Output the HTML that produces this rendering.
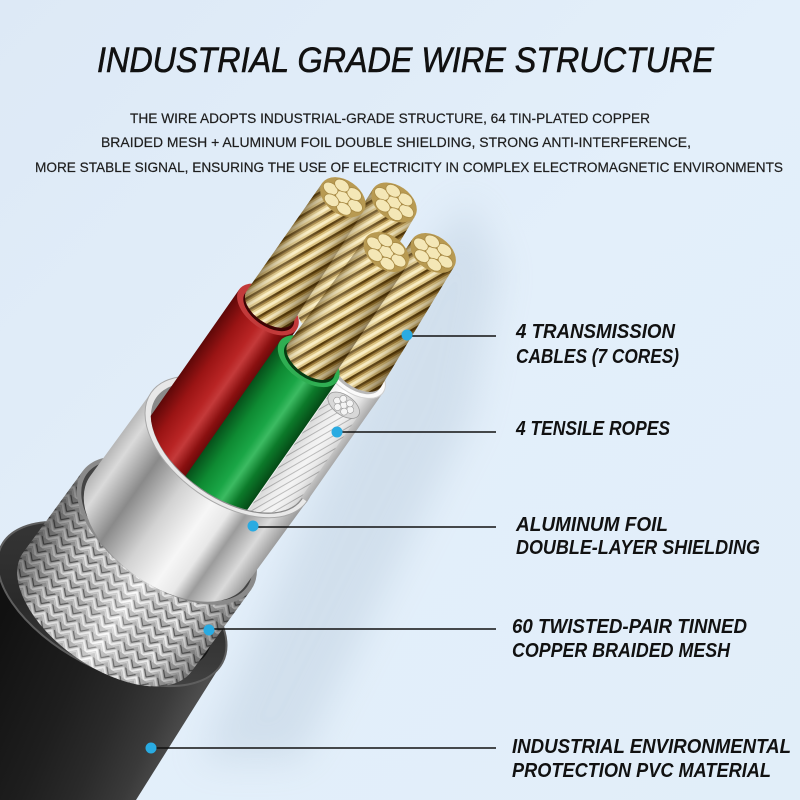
<!DOCTYPE html>
<html><head><meta charset="utf-8"><style>
html,body{margin:0;padding:0;background:#e1eefa;width:800px;height:800px;overflow:hidden;}
svg{display:block;}
</style></head><body>
<svg width="800" height="800" viewBox="0 0 800 800" xmlns="http://www.w3.org/2000/svg">
<defs>
  <linearGradient id="bg" x1="0" y1="0" x2="1" y2="1">
    <stop offset="0" stop-color="#dde9f6"/><stop offset="0.5" stop-color="#e3effa"/><stop offset="1" stop-color="#e1eef9"/>
  </linearGradient>
  <filter id="blur" x="-30%" y="-30%" width="160%" height="160%"><feGaussianBlur stdDeviation="18"/></filter>
  <linearGradient id="jk" x1="0" y1="0.3" x2="1" y2="0.8">
    <stop offset="0" stop-color="#111"/><stop offset="0.35" stop-color="#1e1e1e"/><stop offset="0.55" stop-color="#2a2a2a"/>
    <stop offset="0.72" stop-color="#3a3a3a"/><stop offset="0.84" stop-color="#4e4e4e"/><stop offset="0.93" stop-color="#2a2a2a"/><stop offset="1" stop-color="#151515"/>
  </linearGradient>
  <linearGradient id="jkface" x1="0" y1="0" x2="1" y2="1">
    <stop offset="0" stop-color="#3a3a3a"/><stop offset="0.5" stop-color="#2a2a2a"/><stop offset="1" stop-color="#4a4a4a"/>
  </linearGradient>
  <pattern id="braid" width="16" height="10" patternUnits="userSpaceOnUse">
    <rect width="16" height="10" fill="#b8b8b8"/>
    <path d="M0 10 L8 2 L16 10" stroke="#fafafa" stroke-width="2.2" fill="none"/>
    <path d="M0 6 L8 -2 L16 6" stroke="#5a5a5a" stroke-width="1.1" fill="none"/>
    <path d="M0 13 L8 5 L16 13" stroke="#e0e0e0" stroke-width="1" fill="none"/>
    <path d="M0 8 L8 0 L16 8" stroke="#d0d0d0" stroke-width="0.8" fill="none"/>
  </pattern>
  <linearGradient id="brsh" x1="0" y1="0" x2="1" y2="0">
    <stop offset="0" stop-color="#000" stop-opacity="0.5"/><stop offset="0.25" stop-color="#000" stop-opacity="0.1"/>
    <stop offset="0.55" stop-color="#fff" stop-opacity="0.3"/><stop offset="0.8" stop-color="#000" stop-opacity="0.05"/>
    <stop offset="1" stop-color="#000" stop-opacity="0.4"/>
  </linearGradient>
  <linearGradient id="foil" x1="0" y1="0" x2="1" y2="0">
    <stop offset="0" stop-color="#b5b5b5"/><stop offset="0.08" stop-color="#dadada"/><stop offset="0.24" stop-color="#8a8a8a"/>
    <stop offset="0.42" stop-color="#d2d2d2"/><stop offset="0.6" stop-color="#f6f6f6"/><stop offset="0.7" stop-color="#e8e8e8"/>
    <stop offset="0.78" stop-color="#9c9c9c"/><stop offset="0.9" stop-color="#dadada"/><stop offset="1" stop-color="#999"/>
  </linearGradient>
  <linearGradient id="red" x1="0" y1="0" x2="1" y2="0">
    <stop offset="0" stop-color="#5e0808"/><stop offset="0.25" stop-color="#9a1414"/><stop offset="0.5" stop-color="#b82424"/>
    <stop offset="0.62" stop-color="#c43a3a"/><stop offset="0.8" stop-color="#8a1010"/><stop offset="1" stop-color="#4e0505"/>
  </linearGradient>
  <linearGradient id="green" x1="0" y1="0" x2="1" y2="0">
    <stop offset="0" stop-color="#06501a"/><stop offset="0.25" stop-color="#0e8a32"/><stop offset="0.5" stop-color="#1aa646"/>
    <stop offset="0.62" stop-color="#3cbb62"/><stop offset="0.8" stop-color="#0c7a2a"/><stop offset="1" stop-color="#054a16"/>
  </linearGradient>
  <linearGradient id="white" x1="0" y1="0" x2="1" y2="0">
    <stop offset="0" stop-color="#b0b0b0"/><stop offset="0.3" stop-color="#ececec"/><stop offset="0.55" stop-color="#ffffff"/>
    <stop offset="0.8" stop-color="#e2e2e2"/><stop offset="1" stop-color="#a8a8a8"/>
  </linearGradient>
  <pattern id="cu" width="11" height="11" patternUnits="userSpaceOnUse" patternTransform="rotate(25)">
    <rect width="11" height="11" fill="#dcc380"/>
    <rect x="0" width="2.4" height="11" fill="#553a0a"/>
    <rect x="2.4" width="1.6" height="11" fill="#9c7832"/>
    <rect x="6" width="2.8" height="11" fill="#f8ecc2"/>
  </pattern>
  <linearGradient id="cush" x1="0" y1="0" x2="1" y2="0">
    <stop offset="0" stop-color="#3a2500" stop-opacity="0.5"/><stop offset="0.3" stop-color="#fff8dc" stop-opacity="0.2"/>
    <stop offset="0.5" stop-color="#fff" stop-opacity="0"/><stop offset="0.8" stop-color="#3a2500" stop-opacity="0.25"/>
    <stop offset="1" stop-color="#2a1800" stop-opacity="0.55"/>
  </linearGradient>
  <pattern id="rope" width="6" height="6" patternUnits="userSpaceOnUse" patternTransform="rotate(25)">
    <rect width="6" height="6" fill="#eeeeee"/><rect x="0" width="1" height="6" fill="#9a9a9a"/>
  </pattern>
  <clipPath id="wclip" clipPathUnits="userSpaceOnUse">
    <path d="M -300,-400 L 300,-400 L 300,0 L 89,0 A 89 50 0 0 1 -89,0 L -300,0 Z"/>
  </clipPath>
</defs>

<rect width="800" height="800" fill="url(#bg)"/>
<path d="M 470,200 L 500,270 L 470,420 L 340,680 L 300,760 L 200,760 L 305,520 L 420,260 Z" fill="#a9bccf" opacity="0.3" filter="url(#blur)"/>

<!-- jacket body (image coords) -->
<path d="M 0,546 L 222,663 L 136,800 L 0,800 Z" fill="url(#jk)"/>
<g transform="translate(112,604) rotate(28)">
  <ellipse cx="0" cy="0" rx="125" ry="65" fill="url(#jkface)" stroke="#5e5e5e" stroke-width="2"/>
  <ellipse cx="3" cy="-3" rx="104" ry="52" fill="#161616"/>
</g>

<g transform="translate(229,447) rotate(35)">
  <!-- braid -->
  <path d="M -106,104 L -108,205 A 103 55 0 0 0 98,205 L 100,104 Z" fill="url(#braid)"/>
  <path d="M -106,104 L -108,205 A 103 55 0 0 0 98,205 L 100,104 Z" fill="url(#brsh)"/>
  <ellipse cx="-3" cy="104" rx="103" ry="55" fill="#8a8a8a"/>
  <ellipse cx="-3" cy="104" rx="98" ry="52" fill="#444"/>
  <!-- foil -->
  <path d="M -95,0 L -97,104 A 95 55 0 0 0 93,104 L 95,0 Z" fill="url(#foil)"/>
  <ellipse cx="0" cy="0" rx="95" ry="55" fill="#e8e8e8" stroke="#a8a8a8" stroke-width="1"/>
  <ellipse cx="1" cy="1" rx="89" ry="50" fill="#8a8a8a"/>

  <g clip-path="url(#wclip)">
    <!-- copper B (back) -->
    <path d="M -30,-295 L -25,-157 A 28 16 0 0 0 31,-157 L 20,-295 Z" fill="url(#cu)"/>
    <path d="M -30,-295 L -25,-157 A 28 16 0 0 0 31,-157 L 20,-295 Z" fill="url(#cush)"/>
    <ellipse cx="-5" cy="-295" rx="25" ry="17" fill="#b89a52"/>
    <g fill="#f4e7b6" stroke="#a88a45" stroke-width="0.8">
      <ellipse cx="-5" cy="-295" rx="8" ry="5.5"/><ellipse cx="10" cy="-295" rx="8" ry="5.5"/><ellipse cx="-20" cy="-295" rx="8" ry="5.5"/>
      <ellipse cx="2.5" cy="-304" rx="8" ry="5.5"/><ellipse cx="-12.5" cy="-304" rx="8" ry="5.5"/>
      <ellipse cx="2.5" cy="-286" rx="8" ry="5.5"/><ellipse cx="-12.5" cy="-286" rx="8" ry="5.5"/>
    </g>
    <!-- red -->
    <path d="M -82,-135 L -82,80 L -12,80 L -12,-135 Z" fill="url(#red)"/>
    <ellipse cx="-47" cy="-135" rx="35" ry="20" fill="#c23a3a"/>
    <ellipse cx="-46" cy="-135" rx="29" ry="16" fill="#3d0404"/>
    <!-- copper A -->
    <path d="M -75,-270 L -75,-138 A 28 16 0 0 0 -19,-138 L -25,-270 Z" fill="url(#cu)"/>
    <path d="M -75,-270 L -75,-138 A 28 16 0 0 0 -19,-138 L -25,-270 Z" fill="url(#cush)"/>
    <ellipse cx="-50" cy="-270" rx="25" ry="17" fill="#b89a52"/>
    <g fill="#f4e7b6" stroke="#a88a45" stroke-width="0.8">
      <ellipse cx="-50" cy="-270" rx="8" ry="5.5"/><ellipse cx="-35" cy="-270" rx="8" ry="5.5"/><ellipse cx="-65" cy="-270" rx="8" ry="5.5"/>
      <ellipse cx="-42.5" cy="-279" rx="8" ry="5.5"/><ellipse cx="-57.5" cy="-279" rx="8" ry="5.5"/>
      <ellipse cx="-42.5" cy="-261" rx="8" ry="5.5"/><ellipse cx="-57.5" cy="-261" rx="8" ry="5.5"/>
    </g>
    <!-- white -->
    <path d="M 25,-133 L 25,80 L 95,80 L 95,-133 Z" fill="url(#white)"/>
    <ellipse cx="60" cy="-133" rx="35" ry="20" fill="#fafafa" stroke="#cfcfcf" stroke-width="1"/>
    <ellipse cx="61" cy="-133" rx="29" ry="16" fill="#b8b8b8"/>
    <!-- copper D -->
    <path d="M 31,-276 L 34,-136 A 28 16 0 0 0 90,-136 L 81,-276 Z" fill="url(#cu)"/>
    <path d="M 31,-276 L 34,-136 A 28 16 0 0 0 90,-136 L 81,-276 Z" fill="url(#cush)"/>
    <ellipse cx="56" cy="-276" rx="25" ry="17" fill="#b89a52"/>
    <g fill="#f4e7b6" stroke="#a88a45" stroke-width="0.8">
      <ellipse cx="56" cy="-276" rx="8" ry="5.5"/><ellipse cx="71" cy="-276" rx="8" ry="5.5"/><ellipse cx="41" cy="-276" rx="8" ry="5.5"/>
      <ellipse cx="63.5" cy="-285" rx="8" ry="5.5"/><ellipse cx="48.5" cy="-285" rx="8" ry="5.5"/>
      <ellipse cx="63.5" cy="-267" rx="8" ry="5.5"/><ellipse cx="48.5" cy="-267" rx="8" ry="5.5"/>
    </g>
    <!-- ropes -->
    <path d="M 52,-100 L 52,80 L 88,80 L 88,-100 Z" fill="url(#rope)"/>
    <path d="M 52,-100 L 52,80 L 88,80 L 88,-100 Z" fill="url(#white)" opacity="0.35"/>
    <ellipse cx="70" cy="-100" rx="18" ry="10" fill="#d8d8d8" stroke="#999" stroke-width="0.8"/>
    <g fill="#f4f4f4" stroke="#9a9a9a" stroke-width="0.6">
      <circle cx="70" cy="-100" r="3.5"/><circle cx="62" cy="-100" r="3.5"/><circle cx="78" cy="-100" r="3.5"/>
      <circle cx="66" cy="-105" r="3.5"/><circle cx="74" cy="-105" r="3.5"/><circle cx="66" cy="-95" r="3.5"/><circle cx="74" cy="-95" r="3.5"/>
    </g>
    <!-- green -->
    <path d="M -19,-116 L -19,80 L 51,80 L 51,-116 Z" fill="url(#green)"/>
    <ellipse cx="16" cy="-116" rx="35" ry="20" fill="#2fae52"/>
    <ellipse cx="17" cy="-116" rx="29" ry="16" fill="#053d12"/>
    <!-- copper C -->
    <path d="M -8,-250 L -11,-119 A 28 16 0 0 0 45,-119 L 42,-250 Z" fill="url(#cu)"/>
    <path d="M -8,-250 L -11,-119 A 28 16 0 0 0 45,-119 L 42,-250 Z" fill="url(#cush)"/>
    <ellipse cx="17" cy="-250" rx="25" ry="17" fill="#b89a52"/>
    <g fill="#f4e7b6" stroke="#a88a45" stroke-width="0.8">
      <ellipse cx="17" cy="-250" rx="8" ry="5.5"/><ellipse cx="32" cy="-250" rx="8" ry="5.5"/><ellipse cx="2" cy="-250" rx="8" ry="5.5"/>
      <ellipse cx="24.5" cy="-259" rx="8" ry="5.5"/><ellipse cx="9.5" cy="-259" rx="8" ry="5.5"/>
      <ellipse cx="24.5" cy="-241" rx="8" ry="5.5"/><ellipse cx="9.5" cy="-241" rx="8" ry="5.5"/>
    </g>
  </g>
</g>

<!-- leaders -->
<g stroke="#111" stroke-width="1.5">
  <line x1="407" y1="336" x2="496" y2="336"/>
  <line x1="337" y1="432" x2="496" y2="432"/>
  <line x1="253" y1="527" x2="496" y2="527"/>
  <line x1="209" y1="629" x2="496" y2="629"/>
  <line x1="151" y1="748" x2="496" y2="748"/>
</g>
<g fill="#29abe2">
  <circle cx="407" cy="335" r="5.5"/>
  <circle cx="337" cy="432" r="5.5"/>
  <circle cx="253" cy="526" r="5.5"/>
  <circle cx="209" cy="630" r="5.5"/>
  <circle cx="151" cy="748" r="5.5"/>
</g>

<!-- text -->
<g font-family="'Liberation Sans', sans-serif" fill="#111">
  <text x="97" y="72" font-size="35" font-style="italic" stroke="#111" stroke-width="0.6" textLength="617" lengthAdjust="spacingAndGlyphs">INDUSTRIAL GRADE WIRE STRUCTURE</text>
  <g font-size="14" fill="#1e1e1e" stroke="#1e1e1e" stroke-width="0.2">
    <text x="130" y="123" textLength="520" lengthAdjust="spacingAndGlyphs">THE WIRE ADOPTS INDUSTRIAL-GRADE STRUCTURE, 64 TIN-PLATED COPPER</text>
    <text x="101" y="147" textLength="590" lengthAdjust="spacingAndGlyphs">BRAIDED MESH + ALUMINUM FOIL DOUBLE SHIELDING, STRONG ANTI-INTERFERENCE,</text>
    <text x="35" y="172" textLength="748" lengthAdjust="spacingAndGlyphs">MORE STABLE SIGNAL, ENSURING THE USE OF ELECTRICITY IN COMPLEX ELECTROMAGNETIC ENVIRONMENTS</text>
  </g>
  <g font-size="20" font-style="italic" font-weight="bold">
    <text x="516" y="338" textLength="159" lengthAdjust="spacingAndGlyphs">4 TRANSMISSION</text>
    <text x="516" y="363" textLength="163" lengthAdjust="spacingAndGlyphs">CABLES (7 CORES)</text>
    <text x="516" y="435" textLength="154" lengthAdjust="spacingAndGlyphs">4 TENSILE ROPES</text>
    <text x="516" y="531" textLength="152" lengthAdjust="spacingAndGlyphs">ALUMINUM FOIL</text>
    <text x="516" y="554" textLength="244" lengthAdjust="spacingAndGlyphs">DOUBLE-LAYER SHIELDING</text>
    <text x="512" y="633" textLength="235" lengthAdjust="spacingAndGlyphs">60 TWISTED-PAIR TINNED</text>
    <text x="512" y="657" textLength="218" lengthAdjust="spacingAndGlyphs">COPPER BRAIDED MESH</text>
    <text x="512" y="753" textLength="279" lengthAdjust="spacingAndGlyphs">INDUSTRIAL ENVIRONMENTAL</text>
    <text x="512" y="777" textLength="259" lengthAdjust="spacingAndGlyphs">PROTECTION PVC MATERIAL</text>
  </g>
</g>
</svg>
</body></html>
